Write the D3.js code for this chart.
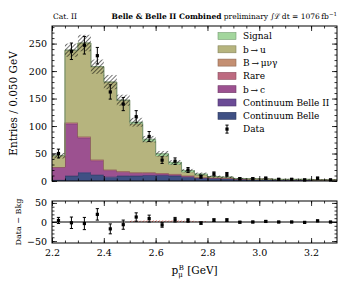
<!DOCTYPE html>
<html>
<head>
<meta charset="utf-8">
<script src="https://cdn.jsdelivr.net/npm/d3@7"></script>
<style>
  body { margin: 0; background: #fff; }
  text { font-family: "DejaVu Serif", serif; fill: #000; }
</style>
</head>
<body>
<svg></svg>
<script>
// bin edges of p_mu^B [GeV], 0.050 GeV wide
var binEdges = [2.20, 2.25, 2.30, 2.35, 2.40, 2.45, 2.50, 2.55, 2.60, 2.65, 2.70, 2.75,
                2.80, 2.85, 2.90, 2.95, 3.00, 3.05, 3.10, 3.15, 3.20, 3.25, 3.30]

// stacked components, bottom to top
var contBelle  = [2, 9, 15, 11, 7, 9, 9, 10, 10, 9, 7, 5, 4.5, 4, 3, 2.5, 2.5, 2, 2, 2, 1.5, 1.5]
var contBelle2 = [0.5, 1, 1.5, 1, 1, 1, 1, 1, 1, 1, 0.8, 0.6, 0.5, 0.5, 0.4, 0.3, 0.3, 0.3, 0.3, 0.3, 0.2, 0.2]
var bToC       = [22.5, 94, 62, 25, 11, 6, 4, 3, 2, 1.5, 1, 0.5, 0.5, 0.3, 0.3, 0.2, 0.2, 0.2, 0.1, 0.1, 0.1, 0.1]
var rare       = [0.5, 2, 2, 1.5, 1.5, 1.5, 1.5, 1.5, 1.2, 1, 0.8, 0.5, 0.4, 0.3, 0.3, 0.2, 0.2, 0.1, 0.1, 0.1, 0.1, 0.1]
var muNuGamma  = [0, 0.5, 0.5, 0.5, 0.5, 0.5, 0.5, 0.5, 0.5, 0.5, 0.4, 0.3, 0.2, 0.2, 0.1, 0.1, 0.1, 0, 0, 0, 0, 0]
var bToU       = [20.5, 131.5, 170, 169, 159, 129, 88, 56, 31, 17, 6, 4, 2, 1.7, 0.4, 0.7, 0.2, 0.4, 0.5, 0.5, 0.1, 0.1]
var signal     = [0, 0, 0, 0, 0, 0, 3, 4, 4, 4, 3, 2, 0, 0, 0, 0, 0, 0, 0, 0, 0, 0]

var mcErr   = [5, 12, 15, 13, 13, 10, 8, 6, 5, 4, 3, 2.5, 2, 1.5, 1.2, 1, 1, 1, 1, 1, 0.8, 0.8]
var data    = [50, 236, 247, 228, 162, 140, 117, 81, 38, 36, 20, 8, 13, 12, 4, 4, 5, 3, 3, 2, 5, 2]
var dataErr = [8, 15, 16, 15, 13, 12, 11, 9, 6, 6, 4.5, 3, 3.5, 3.5, 2, 2, 2, 1.7, 1.7, 1.4, 2, 1.4]

var xTicks = [2.2, 2.4, 2.6, 2.8, 3.0, 3.2]
var yTicks = [0, 50, 100, 150, 200, 250]
var rTicks = [-50, 0, 50]

var layers = [
  {key: "contBelle",  label: "Continuum Belle",    color: "#3f5084", values: contBelle},
  {key: "contBelle2", label: "Continuum Belle II", color: "#6b4b96", values: contBelle2},
  {key: "bToC",       label: "b\u2009\u2192\u2009c",   color: "#9c5190", values: bToC},
  {key: "rare",       label: "Rare",               color: "#bd6a80", values: rare},
  {key: "muNuGamma",  label: "B\u2009\u2192\u2009\u03bc\u03bd\u03b3", color: "#c48f72", values: muNuGamma},
  {key: "bToU",       label: "b\u2009\u2192\u2009u",   color: "#b6b47e", values: bToU},
  {key: "signal",     label: "Signal",             color: "#a3d69d", values: signal}
]

var screen = {width: 349, height: 291}
var main = {left: 52, right: 337, top: 26, bottom: 181}
var ratio = {top: 201, bottom: 243}

var svg = d3.select("svg")
            .attr("width", screen.width)
            .attr("height", screen.height)

var defs = svg.append("defs")
var hatch = defs.append("pattern")
    .attr("id", "hatch")
    .attr("patternUnits", "userSpaceOnUse")
    .attr("width", 3).attr("height", 3)
    .attr("patternTransform", "rotate(45)")
hatch.append("line").attr("x1", 0).attr("y1", 0).attr("x2", 0).attr("y2", 3)
     .attr("stroke", "#000").attr("stroke-width", 1.1)
var redHatch = defs.append("pattern")
    .attr("id", "redhatch")
    .attr("patternUnits", "userSpaceOnUse")
    .attr("width", 2.2).attr("height", 2.2)
    .attr("patternTransform", "rotate(45)")
redHatch.append("line").attr("x1", 0).attr("y1", 0).attr("x2", 0).attr("y2", 2.2)
     .attr("stroke", "#e8291c").attr("stroke-width", 1.1)

var xScale = d3.scaleLinear()
               .domain([2.2, 3.3])
               .range([main.left, main.right])

var yScale = d3.scaleLinear()
               .domain([0, 282])
               .range([main.bottom, main.top])

var rScale = d3.scaleLinear()
               .domain([-55, 55])
               .range([ratio.bottom, ratio.top])

// one row per bin for d3.stack
var rows = binEdges.slice(0, -1).map(function(e, i) {
  var r = {lo: e, hi: binEdges[i + 1]}
  layers.forEach(function(l) { r[l.key] = l.values[i] })
  return r
})

var stack = d3.stack().keys(layers.map(function(l) { return l.key }))
var stacked = stack(rows)

// step shapes: repeat last bin at the upper edge
function stepPoints(series) {
  var pts = series.map(function(d) { return {x: d.data.lo, y0: d[0], y1: d[1]} })
  var last = series[series.length - 1]
  pts.push({x: last.data.hi, y0: last[0], y1: last[1]})
  return pts
}

var stepArea = d3.area()
                 .x(function(d) { return xScale(d.x) })
                 .y0(function(d) { return yScale(d.y0) })
                 .y1(function(d) { return yScale(d.y1) })
                 .curve(d3.curveStepAfter)

var stepLine = d3.line()
                 .x(function(d) { return xScale(d.x) })
                 .y(function(d) { return yScale(d.y1) })
                 .curve(d3.curveStepAfter)

var plot = svg.append("g")

stacked.forEach(function(s, k) {
  var pts = stepPoints(s)
  var col = layers[k].color
  plot.append("path")
      .datum(pts)
      .attr("d", stepArea)
      .attr("fill", col)
  plot.append("path")
      .datum(pts)
      .attr("d", stepLine)
      .attr("fill", "none")
      .attr("stroke", d3.color(col).darker(0.9))
      .attr("stroke-width", 0.8)
})

// MC uncertainty band
var totals = rows.map(function(r) {
  return d3.sum(layers, function(l) { return r[l.key] })
})
plot.selectAll("rect.unc")
    .data(rows)
    .enter()
    .append("rect")
    .attr("class", "unc")
    .attr("x", function(d) { return xScale(d.lo) })
    .attr("width", function(d) { return xScale(d.hi) - xScale(d.lo) })
    .attr("y", function(d, i) { return yScale(totals[i] + mcErr[i]) })
    .attr("height", function(d, i) { return yScale(totals[i] - mcErr[i]) - yScale(totals[i] + mcErr[i]) })
    .attr("fill", "url(#hatch)")

// data points
function drawPoints(g, yS, vals, errs) {
  var pts = g.selectAll("g.pt")
             .data(rows)
             .enter()
             .append("g")
             .attr("class", "pt")
  pts.append("line")
     .attr("x1", function(d) { return xScale((d.lo + d.hi) / 2) })
     .attr("x2", function(d) { return xScale((d.lo + d.hi) / 2) })
     .attr("y1", function(d, i) { return yS(vals[i] - errs[i]) })
     .attr("y2", function(d, i) { return yS(vals[i] + errs[i]) })
     .attr("stroke", "#000").attr("stroke-width", 1)
  ;[-1, 1].forEach(function(sgn) {
    pts.append("line")
       .attr("x1", function(d) { return xScale((d.lo + d.hi) / 2) - 1.6 })
       .attr("x2", function(d) { return xScale((d.lo + d.hi) / 2) + 1.6 })
       .attr("y1", function(d, i) { return yS(vals[i] + sgn * errs[i]) })
       .attr("y2", function(d, i) { return yS(vals[i] + sgn * errs[i]) })
       .attr("stroke", "#000").attr("stroke-width", 1)
  })
  pts.append("rect")
     .attr("x", function(d) { return xScale((d.lo + d.hi) / 2) - 1.6 })
     .attr("y", function(d, i) { return yS(vals[i]) - 1.6 })
     .attr("width", 3.2).attr("height", 3.2)
     .attr("fill", "#000")
}
drawPoints(plot, yScale, data, dataErr)

// ratio panel: data minus background
var bkg = rows.map(function(r, i) { return totals[i] - signal[i] })
var diff = data.map(function(d, i) { return d - bkg[i] })

var rp = svg.append("g")
rp.append("path")
  .datum(stepPoints(stacked[stacked.length - 1]).map(function(p) { return {x: p.x, y: p.y1 - p.y0} }))
  .attr("d", d3.area()
               .x(function(d) { return xScale(d.x) })
               .y0(rScale(0))
               .y1(function(d) { return rScale(d.y) })
               .curve(d3.curveStepAfter))
  .attr("fill", "url(#redhatch)")
rp.append("line")
  .attr("x1", main.left).attr("x2", main.right)
  .attr("y1", rScale(0)).attr("y2", rScale(0))
  .attr("stroke", "#000").attr("stroke-width", 1)
drawPoints(rp, rScale, diff, dataErr)

// ticks on all four sides, pointing inward
function ticks(g, scale, orient, major, minor, labels, len) {
  var axisFn = {bottom: d3.axisBottom, top: d3.axisTop, left: d3.axisLeft, right: d3.axisRight}[orient]
  var gMinor = g.append("g").call(axisFn(scale).tickValues(minor).tickSize(-2.5).tickFormat(""))
  var gMajor = g.append("g").call(axisFn(scale).tickValues(major).tickSize(-len)
                  .tickPadding(orient == "bottom" || orient == "top" ? 6 : 5)
                  .tickFormat(labels ? function(d) { return d3.format(labels)(d).replace("-", "\u2212") } : ""))
  ;[gMinor, gMajor].forEach(function(a) {
    a.select(".domain").remove()
    a.selectAll("line").attr("stroke", "#000").attr("stroke-width", 0.8)
    a.selectAll("text").style("font-family", "DejaVu Serif").style("font-size", "9.5px")
  })
}

var xMinor = d3.range(2.2, 3.3, 0.05)
var yMinor = d3.range(0, 282, 10)
var rMinor = d3.range(-50, 55, 10)

var gx1 = svg.append("g").attr("transform", "translate(0," + main.bottom + ")")
ticks(gx1, xScale, "bottom", xTicks, xMinor, null, 5)
var gx2 = svg.append("g").attr("transform", "translate(0," + main.top + ")")
ticks(gx2, xScale, "top", xTicks, xMinor, null, 5)
var gy1 = svg.append("g").attr("transform", "translate(" + main.left + ",0)")
ticks(gy1, yScale, "left", yTicks, yMinor, "d", 5)
var gy2 = svg.append("g").attr("transform", "translate(" + main.right + ",0)")
ticks(gy2, yScale, "right", yTicks, yMinor, null, 5)

var rx1 = svg.append("g").attr("transform", "translate(0," + ratio.bottom + ")")
ticks(rx1, xScale, "bottom", xTicks, xMinor, ".1f", 5)
var rx2 = svg.append("g").attr("transform", "translate(0," + ratio.top + ")")
ticks(rx2, xScale, "top", xTicks, xMinor, null, 5)
var ry1 = svg.append("g").attr("transform", "translate(" + main.left + ",0)")
ticks(ry1, rScale, "left", rTicks, rMinor, "d", 5)
var ry2 = svg.append("g").attr("transform", "translate(" + main.right + ",0)")
ticks(ry2, rScale, "right", rTicks, rMinor, null, 5)

// frames
svg.append("rect")
   .attr("x", main.left).attr("y", main.top)
   .attr("width", main.right - main.left).attr("height", main.bottom - main.top)
   .attr("fill", "none").attr("stroke", "#000").attr("stroke-width", 1)
svg.append("rect")
   .attr("x", main.left).attr("y", ratio.top)
   .attr("width", main.right - main.left).attr("height", ratio.bottom - ratio.top)
   .attr("fill", "none").attr("stroke", "#000").attr("stroke-width", 1)

// legend
var legend = svg.append("g").attr("transform", "translate(218,36)")
var legItems = layers.slice().reverse()
legItems.forEach(function(l, i) {
  var row = legend.append("g").attr("transform", "translate(0," + (i * 13.3) + ")")
  row.append("rect")
     .attr("x", 0).attr("y", -3.5).attr("width", 18).attr("height", 7)
     .attr("fill", l.color)
     .attr("stroke", d3.color(l.color).darker(0.9)).attr("stroke-width", 0.6)
  row.append("text")
     .attr("x", 25).attr("y", 3.3)
     .style("font-size", "9px")
     .text(l.label)
})
var dRow = legend.append("g").attr("transform", "translate(0," + (legItems.length * 13.3) + ")")
dRow.append("line").attr("x1", 9).attr("x2", 9).attr("y1", -4).attr("y2", 4)
    .attr("stroke", "#000").attr("stroke-width", 1)
dRow.append("line").attr("x1", 7.4).attr("x2", 10.6).attr("y1", -4).attr("y2", -4).attr("stroke", "#000")
dRow.append("line").attr("x1", 7.4).attr("x2", 10.6).attr("y1", 4).attr("y2", 4).attr("stroke", "#000")
dRow.append("rect").attr("x", 7.4).attr("y", -1.6).attr("width", 3.2).attr("height", 3.2).attr("fill", "#000")
dRow.append("text").attr("x", 25).attr("y", 3.3).style("font-size", "9px").text("Data")

// titles
svg.append("text")
   .attr("x", main.left + 1).attr("y", 19)
   .style("font-size", "7.5px")
   .text("Cat. II")
var title = svg.append("text")
   .attr("x", main.right).attr("y", 19)
   .attr("text-anchor", "end")
   .style("font-size", "7.5px")
title.append("tspan").style("font-weight", "bold").text("Belle & Belle II Combined")
title.append("tspan").text(" preliminary \u222b\u2112\u2009dt = 1076\u2009fb")
title.append("tspan").attr("dy", -3).style("font-size", "5.5px").text("\u22121")

// axis labels
svg.append("text")
   .attr("transform", "translate(17," + ((main.top + main.bottom) / 2) + ") rotate(-90)")
   .attr("text-anchor", "middle")
   .style("font-size", "10.5px")
   .text("Entries / 0.050 GeV")
svg.append("text")
   .attr("transform", "translate(21," + ((ratio.top + ratio.bottom) / 2) + ") rotate(-90)")
   .attr("text-anchor", "middle")
   .style("font-size", "8px")
   .text("Data \u2212 Bkg")
var xl = svg.append("text")
   .attr("x", (main.left + main.right) / 2).attr("y", 274)
   .attr("text-anchor", "middle")
   .style("font-size", "10.5px")
xl.append("tspan").text("p")
xl.append("tspan").attr("dy", 2.5).style("font-size", "7px").text("\u03bc")
xl.append("tspan").attr("dx", -4).attr("dy", -7).style("font-size", "7px").text("B")
xl.append("tspan").attr("dy", 4.5).text(" [GeV]")
</script>
</body>
</html>
